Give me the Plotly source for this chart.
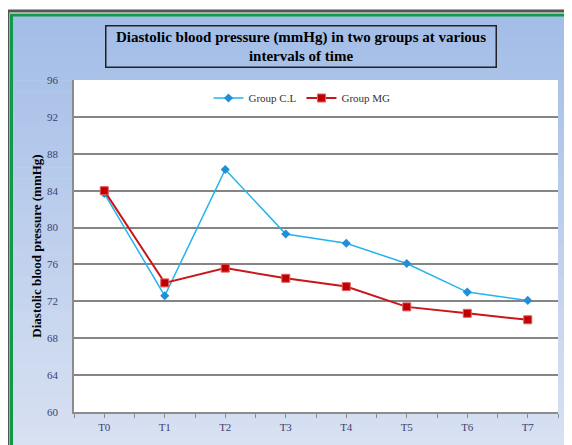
import plotly.graph_objects as go

categories = ["T0", "T1", "T2", "T3", "T4", "T5", "T6", "T7"]
group_cl = [83.7, 72.6, 86.3, 79.3, 78.3, 76.1, 73.0, 72.1]
group_mg = [84.0, 74.0, 75.6, 74.5, 73.6, 71.4, 70.7, 70.0]
y_ticks = [60, 64, 68, 72, 76, 80, 84, 88, 92, 96]

# page body has an 8px margin; positions below are in screen pixels
O = 8
W, H = 572 - O, 445 - O
L, R, T, B = 74 - O, 14, 80 - O, 33
PW, PH = W - L - R, H - T - B

def px(x):
    return (x - O - L) / PW

def py(y):
    return (H - B - (y - O)) / PH

x_idx = list(range(len(categories)))

fig = go.Figure()
fig.add_trace(go.Scatter(
    x=x_idx, y=group_cl, name="Group C.L", mode="lines+markers",
    line=dict(color="#22B4EC", width=1.5),
    marker=dict(symbol="diamond", size=7, color="#1E8FD8"),
))
fig.add_trace(go.Scatter(
    x=x_idx, y=group_mg, name="Group MG", mode="lines+markers",
    line=dict(color="#C8171B", width=2),
    marker=dict(symbol="square", size=8, color="#C00000",
                line=dict(color="#E06060", width=1)),
))

shapes = []
top_c = (163, 189, 231)
bot_c = (216, 225, 242)
n = 40
y0p, y1p = 15, 450
for i in range(n):
    t = i / (n - 1)
    c = tuple(int(round(top_c[k] + (bot_c[k] - top_c[k]) * t)) for k in range(3))
    ya = y0p + (y1p - y0p) * i / n
    yb = y0p + (y1p - y0p) * (i + 1) / n + 0.5
    shapes.append(dict(type="rect", xref="paper", yref="paper", layer="below",
                       x0=px(12), x1=px(580), y0=py(ya), y1=py(yb),
                       fillcolor="rgb(%d,%d,%d)" % c, line=dict(width=0)))
shapes.append(dict(type="rect", xref="paper", yref="paper", layer="below",
                   x0=0, x1=1, y0=0, y1=1, fillcolor="white", line=dict(width=0)))
shapes.append(dict(type="rect", xref="paper", yref="paper", layer="above",
                   x0=px(8), x1=px(590), y0=py(11), y1=py(460),
                   fillcolor="rgba(0,0,0,0)", line=dict(color="#555555", width=3)))
shapes.append(dict(type="rect", xref="paper", yref="paper", layer="above",
                   x0=px(11.5), x1=px(570.5), y0=py(15), y1=py(460),
                   fillcolor="rgba(0,0,0,0)", line=dict(color="#0E9A48", width=3)))

fig.update_layout(
    width=W, height=H,
    margin=dict(l=L, r=R, t=T, b=B),
    paper_bgcolor="white",
    plot_bgcolor="white",
    shapes=shapes,
    font=dict(family="Liberation Serif", size=11, color="#3B4170"),
    showlegend=True,
    legend=dict(orientation="h", x=px(302), y=py(98), xanchor="center", yanchor="middle",
                bgcolor="rgba(0,0,0,0)", font=dict(size=11, color="#333333"),
                itemwidth=30, tracegroupgap=0),
    annotations=[dict(
        text="<b>&nbsp;&nbsp;Diastolic blood pressure (mmHg) in two groups at various&nbsp;&nbsp;<br>intervals of time</b>",
        xref="paper", yref="paper", x=px(301), y=py(46.5), xanchor="center", yanchor="middle",
        showarrow=False, font=dict(family="Liberation Serif", size=15, color="black"),
        bordercolor="#222222", borderwidth=1.5, borderpad=2, bgcolor="rgba(0,0,0,0)",
        align="center",
    )],
)

fig.update_xaxes(
    range=[-0.5, 7.5], tickmode="array", tickvals=x_idx, ticktext=categories,
    showgrid=False, zeroline=False, showline=True, linecolor="#8C8C8C", linewidth=1.5,
    ticks="outside", ticklen=4, tickcolor="#8C8C8C",
    minor=dict(dtick=0.5, tick0=-0.5, ticks="outside", ticklen=4, tickcolor="#8C8C8C", showgrid=False),
    tickfont=dict(size=11, color="#3B4170"),
)
fig.update_yaxes(
    range=[60, 96], tickmode="array", tickvals=y_ticks,
    showgrid=True, gridcolor="#858585", gridwidth=1.6, zeroline=False,
    showline=True, linecolor="#8C8C8C", linewidth=1.5,
    ticks="", ticklabelstandoff=12,
    tickfont=dict(size=11, color="#3B4170"),
    title=dict(text="<b>Diastolic blood pressure (mmHg)</b>", standoff=2,
               font=dict(size=13, color="black", family="Liberation Serif")),
)

fig.write_html("out.html")
